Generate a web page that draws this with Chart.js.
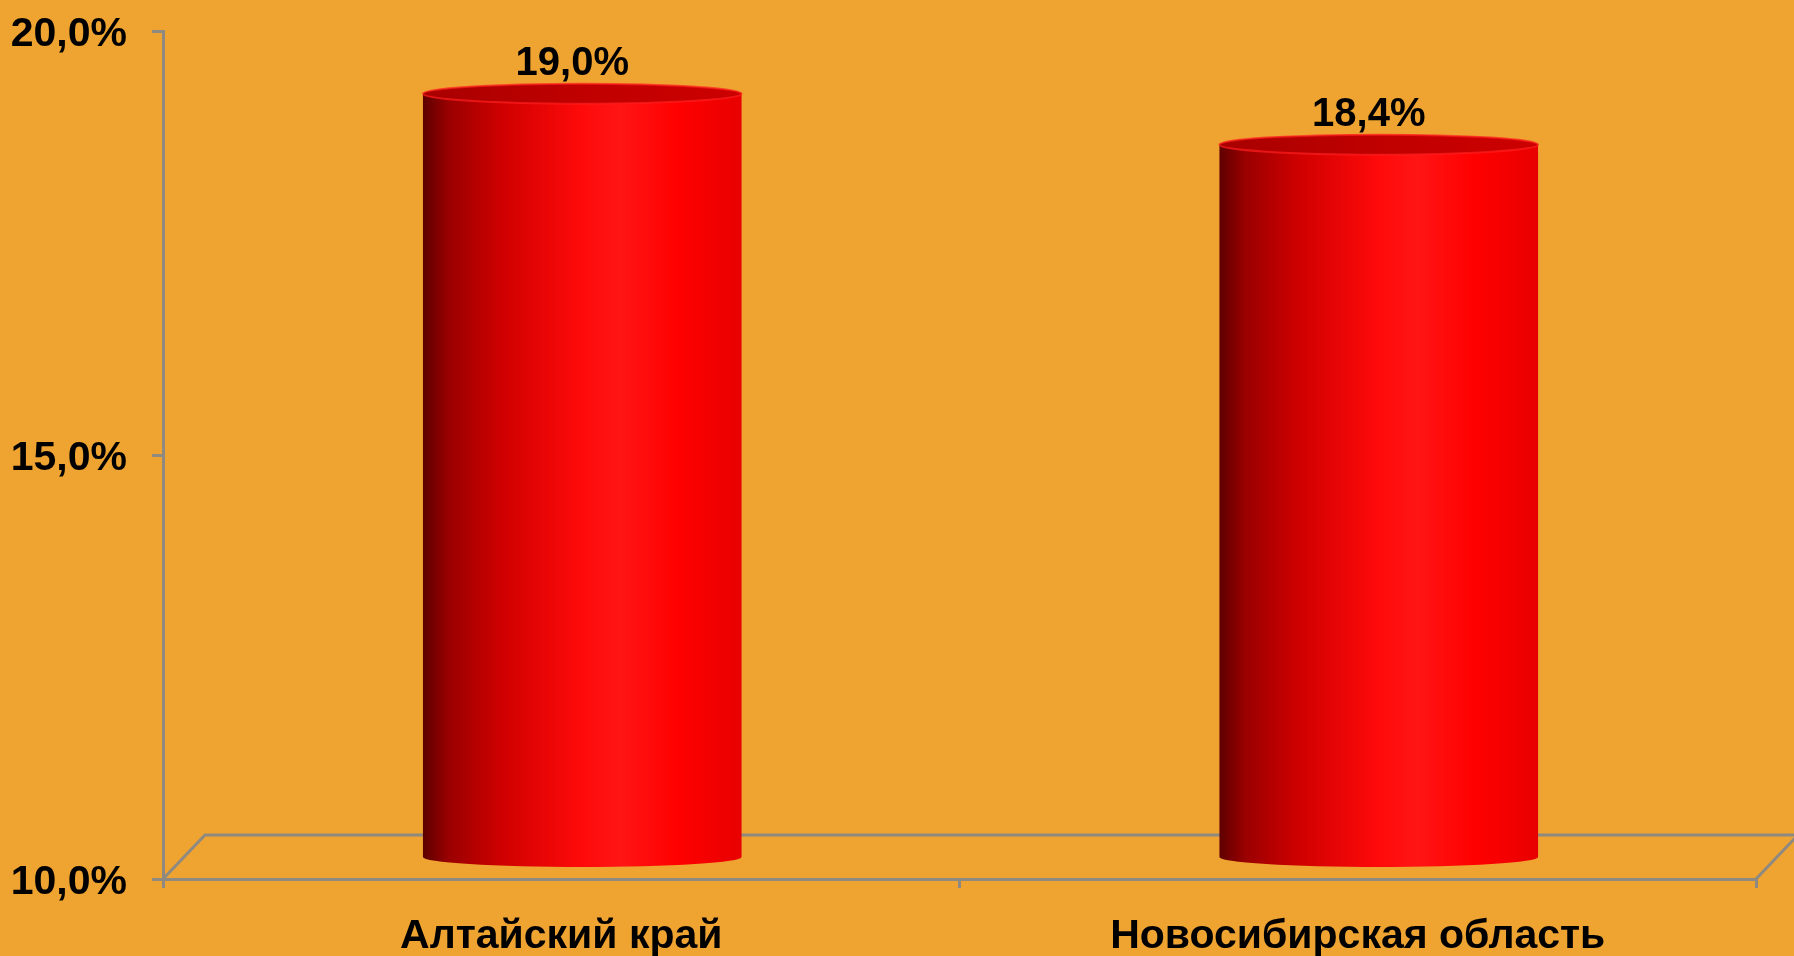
<!DOCTYPE html>
<html>
<head>
<meta charset="utf-8">
<script src="https://cdn.jsdelivr.net/npm/chart.js@4"></script>
<style>
  body { margin: 0; background: #EFA331; }
  canvas { display: block; }
</style>
</head>
<body>
<canvas id="chart" width="1794" height="956"></canvas>
<script>
const categories = ["Алтайский край", "Новосибирская область"];
const values = [19.0, 18.4];
const yMin = 10;
const yMax = 20;
const yStep = 5;

const depthX = 42; // 3d depth of the floor
const depthY = 44;
const axisGrey = "#8E8A82";
const fontFamily = "'Liberation Sans', Arial, sans-serif";

function fmt(v) {
  return v.toFixed(1).replace(".", ",") + "%";
}

// floor of the 3d plot + cylinders + labels
const cylinders = {
  id: "cylinders",
  beforeDatasetsDraw(chart) {
    const ctx = chart.ctx;
    const a = chart.chartArea;
    ctx.save();
    ctx.strokeStyle = axisGrey;
    ctx.lineWidth = 3;
    ctx.beginPath();
    ctx.moveTo(a.left, a.bottom);
    ctx.lineTo(a.left + depthX, a.bottom - depthY);
    ctx.lineTo(a.right + depthX, a.bottom - depthY);
    ctx.moveTo(a.right, a.bottom);
    ctx.lineTo(a.right + depthX, a.bottom - depthY);
    ctx.stroke();
    ctx.restore();
  },
  afterDatasetsDraw(chart) {
    const ctx = chart.ctx;
    const meta = chart.getDatasetMeta(0);
    const offX = depthX / 2, offY = depthY / 2;
    const basePx = chart.scales.y.getPixelForValue(yMin);
    meta.data.forEach((bar, i) => {
      const cx = bar.x + offX;
      const rx = bar.width / 2;
      const ry = 10;
      const top = bar.y - offY;
      const bottom = basePx - offY;
      const l = cx - rx, r = cx + rx;

      const g = ctx.createLinearGradient(l, 0, r, 0);
      g.addColorStop(0, "#5e0000");
      g.addColorStop(0.08, "#9a0000");
      g.addColorStop(0.25, "#d00000");
      g.addColorStop(0.5, "#ff0a0a");
      g.addColorStop(0.62, "#ff1515");
      g.addColorStop(0.8, "#ff0000");
      g.addColorStop(1, "#e80000");

      ctx.save();
      // body + lower arc
      ctx.beginPath();
      ctx.moveTo(l, top);
      ctx.lineTo(l, bottom);
      ctx.ellipse(cx, bottom, rx, ry, 0, Math.PI, 0, true);
      ctx.lineTo(r, top);
      ctx.closePath();
      ctx.fillStyle = g;
      ctx.fill();

      // top
      const tg = ctx.createLinearGradient(l, 0, r, 0);
      tg.addColorStop(0, "#a80000");
      tg.addColorStop(0.5, "#c00000");
      tg.addColorStop(1, "#cc0000");
      ctx.beginPath();
      ctx.ellipse(cx, top, rx, ry, 0, 0, Math.PI * 2);
      ctx.fillStyle = tg;
      ctx.fill();
      ctx.strokeStyle = "rgba(255,30,30,0.7)";
      ctx.lineWidth = 2;
      ctx.stroke();

      // value label
      ctx.fillStyle = "#000";
      ctx.font = "bold 40px " + fontFamily;
      ctx.textAlign = "center";
      ctx.textBaseline = "middle";
      ctx.fillText(fmt(values[i]), cx - 10, top - 30);
      ctx.restore();
    });
  }
};

new Chart(document.getElementById("chart"), {
  type: "bar",
  data: {
    labels: categories,
    datasets: [{
      data: values,
      backgroundColor: "rgba(0,0,0,0)",
      borderWidth: 0,
      barPercentage: 0.8,
      categoryPercentage: 0.5
    }]
  },
  options: {
    responsive: false,
    animation: false,
    events: [],
    layout: { padding: { top: 31, right: 38, left: 0, bottom: 0 } },
    plugins: {
      legend: { display: false },
      tooltip: { enabled: false }
    },
    scales: {
      x: {
        afterFit(scale) { scale.height = 77; },
        grid: {
          offset: true,
          drawOnChartArea: false,
          tickLength: 9,
          color: axisGrey,
          lineWidth: 3
        },
        border: { color: axisGrey, width: 3 },
        ticks: {
          color: "#000",
          padding: 24,
          maxRotation: 0,
          font: { family: fontFamily, size: 41, weight: "bold" }
        }
      },
      y: {
        min: yMin,
        max: yMax,
        afterFit(scale) {
          scale.width = 163;
          scale.paddingTop = 0;
          scale.paddingBottom = 0;
        },
        grid: {
          drawOnChartArea: false,
          tickLength: 11,
          color: axisGrey,
          lineWidth: 3
        },
        border: { color: axisGrey, width: 3 },
        ticks: {
          stepSize: yStep,
          color: "#000",
          padding: 25,
          labelOffset: 4,
          callback: (v) => fmt(v),
          font: { family: fontFamily, size: 41, weight: "bold" }
        }
      }
    }
  },
  plugins: [cylinders]
});
</script>
</body>
</html>
